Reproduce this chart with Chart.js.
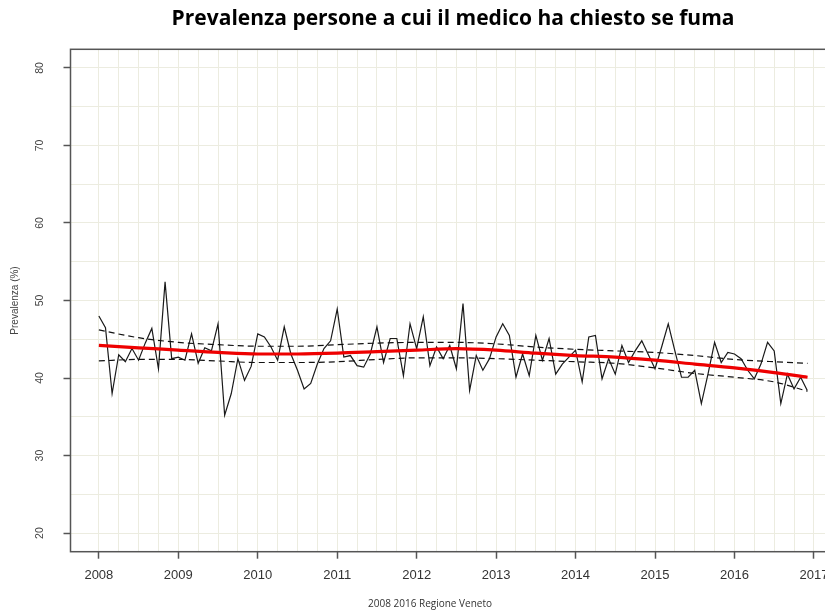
<!DOCTYPE html>
<html>
<head>
<meta charset="utf-8">
<script src="https://cdn.jsdelivr.net/npm/chart.js@4/dist/chart.umd.min.js"></script>
<style>
  html, body { margin: 0; padding: 0; background: #ffffff; overflow: hidden; width: 825px; height: 613px; }
  #wrap { position: absolute; left: 0; top: 0; width: 840px; height: 613px; }
</style>
</head>
<body>
<div id="wrap"><canvas id="c" width="840" height="613"></canvas></div>
<script>
// ---- data ----
const chartTitle = 'Prevalenza persone a cui il medico ha chiesto se fuma';
const xAxisTitle = '2008 2016 Regione Veneto';
const yAxisTitle = 'Prevalenza (%)';
const years = [2008, 2009, 2010, 2011, 2012, 2013, 2014, 2015, 2016];
const xTickLabels = [2008, 2009, 2010, 2011, 2012, 2013, 2014, 2015, 2016, 2017];
const yTickLabels = [20, 30, 40, 50, 60, 70, 80];

// monthly prevalence, Jan 2008 .. Dec 2016
const monthlyPrevalence = [
  48.0, 46.5, 38.0, 43.0, 42.1, 43.8, 42.3, 44.5, 46.4, 41.2, 52.4, 42.5,
  42.7, 42.3, 45.7, 41.9, 43.9, 43.5, 47.0, 35.2, 38.0, 42.5, 39.7, 41.5,
  45.7, 45.3, 44.0, 42.3, 46.6, 43.1, 41.0, 38.6, 39.3, 41.8, 43.8, 44.8,
  48.9, 42.7, 42.9, 41.6, 41.4, 43.1, 46.6, 42.0, 45.1, 45.1, 40.3, 47.0,
  43.8, 47.9, 41.6, 44.0, 42.5, 44.2, 41.2, 49.6, 38.4, 42.9, 41.0, 42.5,
  45.3, 47.0, 45.5, 40.1, 43.1, 40.3, 45.5, 42.3, 45.1, 40.5, 41.8, 42.7,
  43.6, 39.5, 45.3, 45.5, 39.9, 42.5, 40.5, 44.2, 42.0, 43.5, 44.8, 43.0,
  41.2, 44.0, 47.0, 43.5, 40.1, 40.1, 41.0, 36.7, 40.5, 44.6, 42.0, 43.3,
  43.1, 42.5, 41.0, 39.9, 41.8, 44.6, 43.5, 36.7, 40.5, 38.6, 40.1, 38.4
];

// smoothed trend and its band, read at half-year points
const trendX     = [2008, 2008.5, 2009, 2009.5, 2010, 2010.5, 2011, 2011.5, 2012, 2012.5, 2013, 2013.5, 2014, 2014.5, 2015, 2015.5, 2016, 2016.5, 2016.92];
const trendFit   = [44.2, 43.9, 43.6, 43.3, 43.1, 43.1, 43.2, 43.4, 43.6, 43.8, 43.6, 43.2, 42.9, 42.7, 42.3, 41.8, 41.3, 40.7, 40.1];
const trendUpper = [46.2, 45.2, 44.6, 44.3, 44.1, 44.1, 44.3, 44.5, 44.6, 44.6, 44.4, 44.0, 43.7, 43.5, 43.3, 42.9, 42.4, 42.1, 41.9];
const trendLower = [42.2, 42.4, 42.4, 42.2, 42.0, 42.0, 42.1, 42.4, 42.6, 42.6, 42.5, 42.3, 42.1, 41.9, 41.3, 40.6, 40.1, 39.5, 38.3];

// ---- build library structures ----
const monthlyPoints = [];
years.forEach((yr, yi) => {
  for (let m = 0; m < 12; m++) {
    monthlyPoints.push({ x: yr + m / 12, y: monthlyPrevalence[yi * 12 + m] });
  }
});
const toPts = arr => trendX.map((x, i) => ({ x: x, y: arr[i] }));

const xMin = 2007.643, xMax = 2017.273, yMin = 17.6, yMax = 82.4;

// grid positions: every quarter year, every 5 units (inside the plot range)
const xGrid = [];
xTickLabels.forEach(y => { [0, 0.25, 0.5, 0.75].forEach(q => { if (y + q <= xMax) xGrid.push(y + q); }); });
const yGrid = [];
for (let i = 0; i < yTickLabels.length; i++) {
  yGrid.push(yTickLabels[i]);
  if (i < yTickLabels.length - 1) yGrid.push((yTickLabels[i] + yTickLabels[i + 1]) / 2);
}

const GRID = '#ecece0';
const AXIS = '#555555';

const extras = {
  id: 'extras',
  afterDatasetsDraw(chart) {
    const ctx = chart.ctx, a = chart.chartArea;
    ctx.save();
    ctx.strokeStyle = AXIS;
    ctx.lineWidth = 1.5;
    ctx.strokeRect(a.left, a.top, a.right - a.left, a.bottom - a.top);
    ctx.restore();
  },
  afterDraw(chart) {
    const ctx = chart.ctx;
    const ys = chart.scales.y;
    ctx.save();
    ctx.fillStyle = '#444444';
    ctx.font = '10.5px "Liberation Sans", Arial, sans-serif';
    ctx.textAlign = 'center';
    ctx.textBaseline = 'middle';
    yTickLabels.forEach(v => {
      const py = ys.getPixelForValue(v);
      ctx.save();
      ctx.translate(40, py);
      ctx.rotate(-Math.PI / 2);
      ctx.fillText(String(v), 0, 0);
      ctx.restore();
    });
    ctx.fillStyle = '#333333';
    ctx.font = '10px "Open Sans", sans-serif';
    ctx.fillText(xAxisTitle, 430, 604);
    ctx.restore();
  }
};

new Chart(document.getElementById('c'), {
  type: 'line',
  data: {
    datasets: [
      { label: 'trend', data: toPts(trendFit), borderColor: '#ee0000', borderWidth: 3.2,
        pointRadius: 0, tension: 0.4, cubicInterpolationMode: 'monotone', fill: false, order: 0 },
      { label: 'upper', data: toPts(trendUpper), borderColor: '#111111', borderWidth: 1.2, borderDash: [6, 4],
        pointRadius: 0, cubicInterpolationMode: 'monotone', fill: false, order: 1 },
      { label: 'lower', data: toPts(trendLower), borderColor: '#111111', borderWidth: 1.2, borderDash: [6, 4],
        pointRadius: 0, cubicInterpolationMode: 'monotone', fill: false, order: 1 },
      { label: 'monthly', data: monthlyPoints, borderColor: '#1a1a1a', borderWidth: 1.2,
        pointRadius: 0, tension: 0, fill: false, order: 2 }
    ]
  },
  options: {
    responsive: false,
    animation: false,
    devicePixelRatio: 1,
    layout: { padding: { left: 0, right: 4.4, top: 0, bottom: 0 } },
    plugins: {
      legend: { display: false },
      tooltip: { enabled: false },
      title: {
        display: true, text: chartTitle, fullSize: false, color: '#000000',
        font: { family: '"Open Sans", sans-serif', size: 21, weight: 'bold' },
        padding: { top: 6, bottom: 18.1 }
      }
    },
    scales: {
      x: {
        type: 'linear', min: xMin, max: xMax,
        afterBuildTicks: s => { s.ticks = xGrid.map(v => ({ value: v })); },
        afterFit: s => { s.height = 61.3; s.paddingRight = 0; s.paddingLeft = 0; },
        ticks: {
          autoSkip: false, maxRotation: 0, minRotation: 0, padding: 9,
          color: '#333333', font: { family: '"Liberation Sans", Arial, sans-serif', size: 13 },
          callback: v => (Math.abs(v - Math.round(v)) < 1e-6 ? String(Math.round(v)) : '')
        },
        grid: {
          color: GRID, lineWidth: 1, tickLength: 7, drawTicks: true,
          tickColor: c => (c.tick && Math.abs(c.tick.value - Math.round(c.tick.value)) < 1e-6 ? AXIS : 'rgba(0,0,0,0)'),
          tickWidth: 1.5
        },
        border: { display: false }
      },
      y: {
        type: 'linear', min: yMin, max: yMax,
        afterBuildTicks: s => { s.ticks = yGrid.map(v => ({ value: v })); },
        afterFit: s => { s.width = 70.5; },
        ticks: { display: false },
        title: {
          display: true, text: yAxisTitle, color: '#444444',
          font: { family: '"Liberation Sans", Arial, sans-serif', size: 10 },
          padding: { top: 9, bottom: 0 }
        },
        grid: {
          color: GRID, lineWidth: 1, tickLength: 7, drawTicks: true,
          tickColor: c => (c.tick && c.tick.value % 10 === 0 ? AXIS : 'rgba(0,0,0,0)'),
          tickWidth: 1.5
        },
        border: { display: false }
      }
    }
  },
  plugins: [extras]
});
</script>
</body>
</html>
